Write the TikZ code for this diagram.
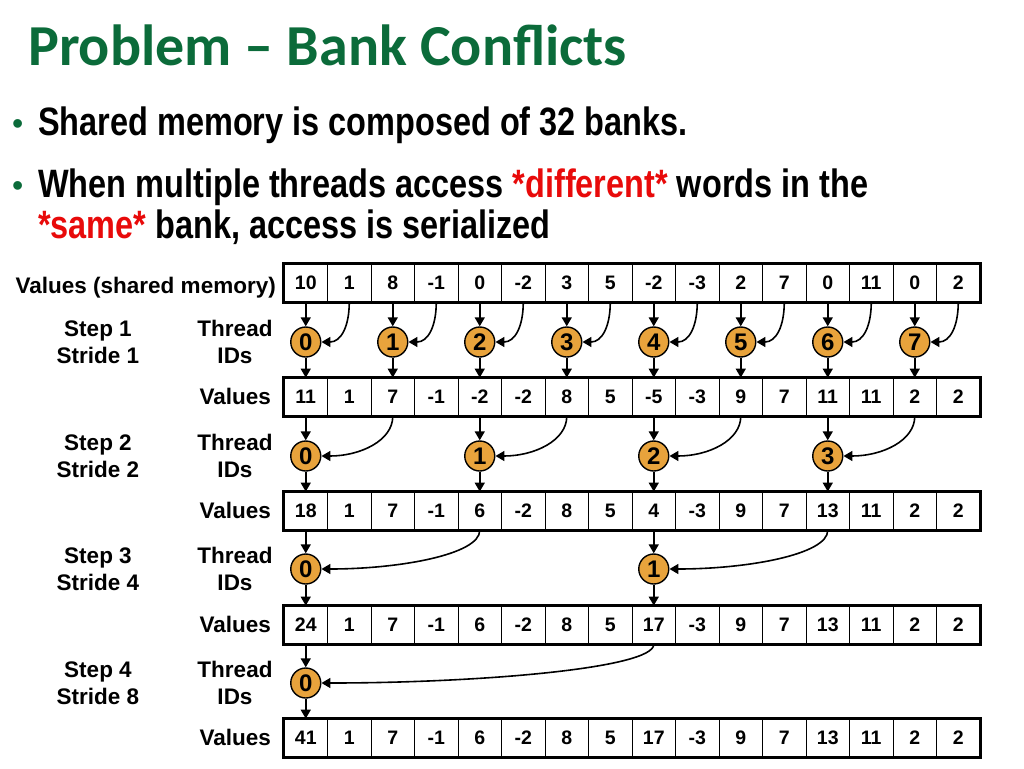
\documentclass[tikz,border=0pt]{standalone}
\usepackage{fontspec}
\setmainfont{Liberation Sans}
\newfontfamily\titlefont{Carlito}
\newfontfamily\narrowfont[FakeStretch=0.82]{Liberation Sans}
\usetikzlibrary{arrows.meta}
\definecolor{titlegreen}{RGB}{11,107,58}
\definecolor{hotred}{RGB}{232,10,10}
\definecolor{threadorange}{RGB}{232,163,60}
\tikzset{
	cell/.style={draw, line width=0.8pt, minimum width=43.5pt, minimum height=38pt, inner sep=0pt, font=\bfseries\fontsize{19.5}{19.5}\selectfont},
	thread/.style={circle, draw, line width=1.4pt, fill=threadorange, minimum size=30pt, inner sep=0pt, font=\bfseries\fontsize{24}{24}\selectfont},
	lbl/.style={font=\bfseries\fontsize{22.5}{27}\selectfont, align=center, inner sep=0pt},
	bullettext/.style={anchor=base west, inner sep=0pt, font=\narrowfont\bfseries\fontsize{39.6}{40}\selectfont},
	bulletdot/.style={anchor=base west, inner sep=0pt, text=titlegreen, font=\fontsize{32}{32}\selectfont},
	link/.style={line width=1.6pt, ->},
	>={Triangle[length=9pt,width=10pt]}
}

\begin{document}
\begin{tikzpicture}[x=1pt,y=-1pt]
			\useasboundingbox (0,0) rectangle (1024,768);

			% heading
			\node[anchor=base west, inner sep=0pt, text=titlegreen, font=\titlefont\bfseries\fontsize{58}{58}\selectfont] (title) at (28,65) {Problem – Bank Conflicts};

			% bullets
			\node[bulletdot] (dot1) at (12,134) {•};
			\node[bullettext] (line1) at (38,135) {Shared memory is composed of 32 banks.};
			\node[bulletdot] (dot2) at (12,196) {•};
			\node[bullettext] (line2) at (38,197) {When multiple threads access \textcolor{hotred}{*different*} words in the};
			\node[bullettext] (line3) at (38,238) {\textcolor{hotred}{*same*} bank, access is serialized};

			% value rows
			\foreach \r/\vals/\yy in {0/{10,1,8,-1,0,-2,3,5,-2,-3,2,7,0,11,0,2}/283,
					1/{11,1,7,-1,-2,-2,8,5,-5,-3,9,7,11,11,2,2}/397,
					2/{18,1,7,-1,6,-2,8,5,4,-3,9,7,13,11,2,2}/511,
					3/{24,1,7,-1,6,-2,8,5,17,-3,9,7,13,11,2,2}/625,
					4/{41,1,7,-1,6,-2,8,5,17,-3,9,7,13,11,2,2}/738} {
				\foreach \v [count=\c] in \vals
					\node[cell] (v\r-\c) at (262.25+43.5*\c,\yy) {\v};
				\draw[line width=2.6pt] (v\r-1.north west) rectangle (v\r-16.south east);
			}

			% row labels
			\node[lbl, anchor=east] (shared) at (276,288) {Values (shared memory)};
			\foreach \s/\d/\yy/\vy in {1/1/342/396,2/2/456/510,3/4/569/624,4/8/683/737} {
				\node[lbl] (step\s) at (98,\yy) {Step \s\\Stride \d};
				\node[lbl] (tid\s) at (235,\yy) {Thread\\IDs};
				\node[lbl, anchor=east] (val\s) at (271,\vy) {Values};
			}

			% reduction steps
			\foreach \s/\yy in {1/342,2/456,3/569,4/683} {
				\pgfmathtruncatemacro\d{2^(\s-1)}
				\pgfmathtruncatemacro\n{8/\d-1}
				\pgfmathtruncatemacro\prev{\s-1}
				\pgfmathsetmacro\ind{0.45*43.5*\d}
				\foreach \k in {0,...,\n} {
					\pgfmathtruncatemacro\a{1+2*\d*\k}
					\pgfmathtruncatemacro\b{\a+\d}
					\node[thread] (t\s-\k) at (262.25+43.5*\a,\yy) {\k};
					\draw[link] (v\prev-\a.south) -- (t\s-\k);
					\draw[link] (v\prev-\b.south) to[out=-90, in=0, out distance=24pt, in distance=\ind pt] (t\s-\k.east);
					\draw[link] (t\s-\k) -- (v\s-\a.north);
				}
			}

		\end{tikzpicture}
\end{document}
